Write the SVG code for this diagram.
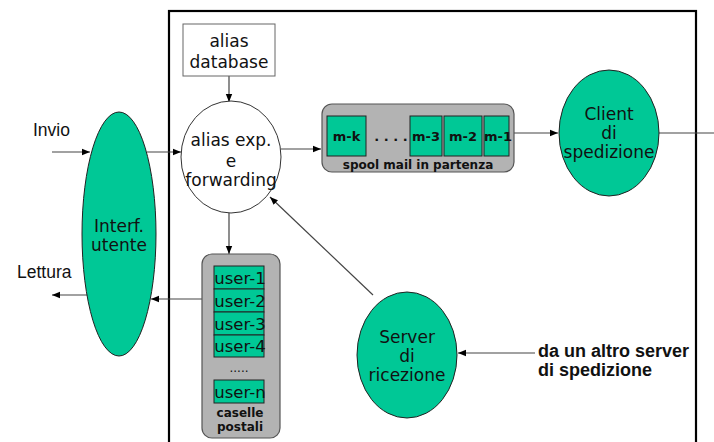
<svg xmlns="http://www.w3.org/2000/svg" width="714" height="442" viewBox="0 0 714 442">
  <defs>
    <marker id="arr" viewBox="0 0 10 10" refX="10" refY="5" markerWidth="8" markerHeight="8" markerUnits="userSpaceOnUse" orient="auto">
      <path d="M0,1 L10,5 L0,9 z" fill="#000"/>
    </marker>
    <style>
      .ln { stroke: #444; stroke-width: 1.2; fill: none; }
      .arrow { marker-end: url(#arr); }
      .node { fill: #00c896; stroke: #222; stroke-width: 1; }
      .cell { fill: #00c896; stroke: #222; stroke-width: 1; }
      .tray { fill: #b3b3b3; stroke: #555; stroke-width: 1.2; }
      .t { font-family: "DejaVu Sans", sans-serif; font-size: 17px; fill: #111; text-anchor: middle; }
      .cellt { font-family: "DejaVu Sans", sans-serif; font-size: 16.5px; fill: #111; text-anchor: middle; }
      .bold { font-family: "DejaVu Sans", sans-serif; font-size: 12px; font-weight: bold; fill: #111; text-anchor: middle; }
      .mk { font-family: "DejaVu Sans", sans-serif; font-size: 13px; font-weight: bold; fill: #111; text-anchor: middle; }
      .lbl { font-family: "Liberation Sans", Arial, sans-serif; font-size: 17.5px; fill: #111; }
      .blbl { font-family: "Liberation Sans", Arial, sans-serif; font-size: 18px; font-weight: bold; fill: #111; }
    </style>
  </defs>

  <rect width="714" height="442" fill="#fff"/>

  <!-- system boundary -->
  <rect id="boundary" x="169" y="11" width="527" height="440" fill="none" stroke="#000" stroke-width="2.2"/>

  <g id="connectors">
    <line class="ln arrow" x1="52" y1="152" x2="90" y2="152"/>
    <line class="ln arrow" x1="90" y1="295" x2="52" y2="295"/>
    <line class="ln arrow" x1="147" y1="152" x2="181" y2="152"/>
    <line class="ln arrow" x1="229" y1="76" x2="229" y2="102"/>
    <line class="ln arrow" x1="281" y1="149" x2="321" y2="149"/>
    <line class="ln arrow" x1="509" y1="133" x2="558" y2="133"/>
    <line class="ln" x1="659" y1="133" x2="714" y2="133"/>
    <line class="ln arrow" x1="229" y1="213" x2="229" y2="254"/>
    <line class="ln arrow" x1="202" y1="299" x2="151" y2="299"/>
    <line class="ln arrow" x1="373" y1="295" x2="270" y2="197"/>
    <line class="ln arrow" x1="535" y1="353" x2="458" y2="353"/>
  </g>

  <text class="lbl" x="33" y="136">Invio</text>
  <text class="lbl" x="17" y="278">Lettura</text>

  <g id="interf-utente">
    <ellipse class="node" cx="119" cy="234" rx="37" ry="122"/>
    <text class="t" x="119" y="232">Interf.</text>
    <text class="t" x="119" y="251">utente</text>
  </g>

  <g id="alias-database">
    <rect x="183" y="24" width="92" height="52" fill="#fff" stroke="#666" stroke-width="1"/>
    <text class="t" x="229" y="47">alias</text>
    <text class="t" x="229" y="68">database</text>
  </g>

  <g id="alias-exp">
    <ellipse cx="231" cy="157" rx="50" ry="56" fill="#fff" stroke="#333" stroke-width="1"/>
    <text class="t" x="231" y="146">alias exp.</text>
    <text class="t" x="231" y="167">e</text>
    <text class="t" x="231" y="186">forwarding</text>
  </g>

  <g id="spool">
    <rect class="tray" x="322" y="104" width="192" height="68" rx="10"/>
    <rect class="cell" x="327" y="116" width="39" height="40"/>
    <rect class="cell" x="410" y="116" width="32" height="40"/>
    <rect class="cell" x="444" y="116" width="38" height="40"/>
    <rect class="cell" x="484" y="116" width="25" height="40"/>
    <text class="mk" x="346.5" y="141">m-k</text>
    <text class="mk" x="391" y="141">. . . .</text>
    <text class="mk" x="426" y="141">m-3</text>
    <text class="mk" x="463" y="141">m-2</text>
    <text class="mk" x="498" y="141">m-1</text>
    <text class="bold" x="418" y="169">spool mail in partenza</text>
  </g>

  <g id="client-spedizione">
    <ellipse class="node" cx="609" cy="133" rx="50" ry="63"/>
    <text class="t" x="609" y="120">Client</text>
    <text class="t" x="609" y="139">di</text>
    <text class="t" x="609" y="158">spedizione</text>
  </g>

  <g id="caselle-postali">
    <rect class="tray" x="202" y="254" width="78" height="184" rx="10"/>
    <rect class="cell" x="214" y="266" width="50" height="23"/>
    <rect class="cell" x="214" y="289" width="50" height="23"/>
    <rect class="cell" x="214" y="312" width="50" height="23"/>
    <rect class="cell" x="214" y="335" width="50" height="22"/>
    <rect class="cell" x="214" y="380" width="50" height="23"/>
    <text class="cellt" x="240" y="284">user-1</text>
    <text class="cellt" x="240" y="307">user-2</text>
    <text class="cellt" x="240" y="330">user-3</text>
    <text class="cellt" x="240" y="352">user-4</text>
    <text class="cellt" x="239" y="372" style="font-size:12px">.....</text>
    <text class="cellt" x="240" y="398">user-n</text>
    <text class="bold" x="240" y="417">caselle</text>
    <text class="bold" x="240" y="431">postali</text>
  </g>

  <g id="server-ricezione">
    <ellipse class="node" cx="407" cy="355" rx="50" ry="63"/>
    <text class="t" x="407" y="343">Server</text>
    <text class="t" x="407" y="362">di</text>
    <text class="t" x="407" y="381">ricezione</text>
  </g>

  <text class="blbl" x="538" y="357">da un altro server</text>
  <text class="blbl" x="538" y="376">di spedizione</text>
</svg>
